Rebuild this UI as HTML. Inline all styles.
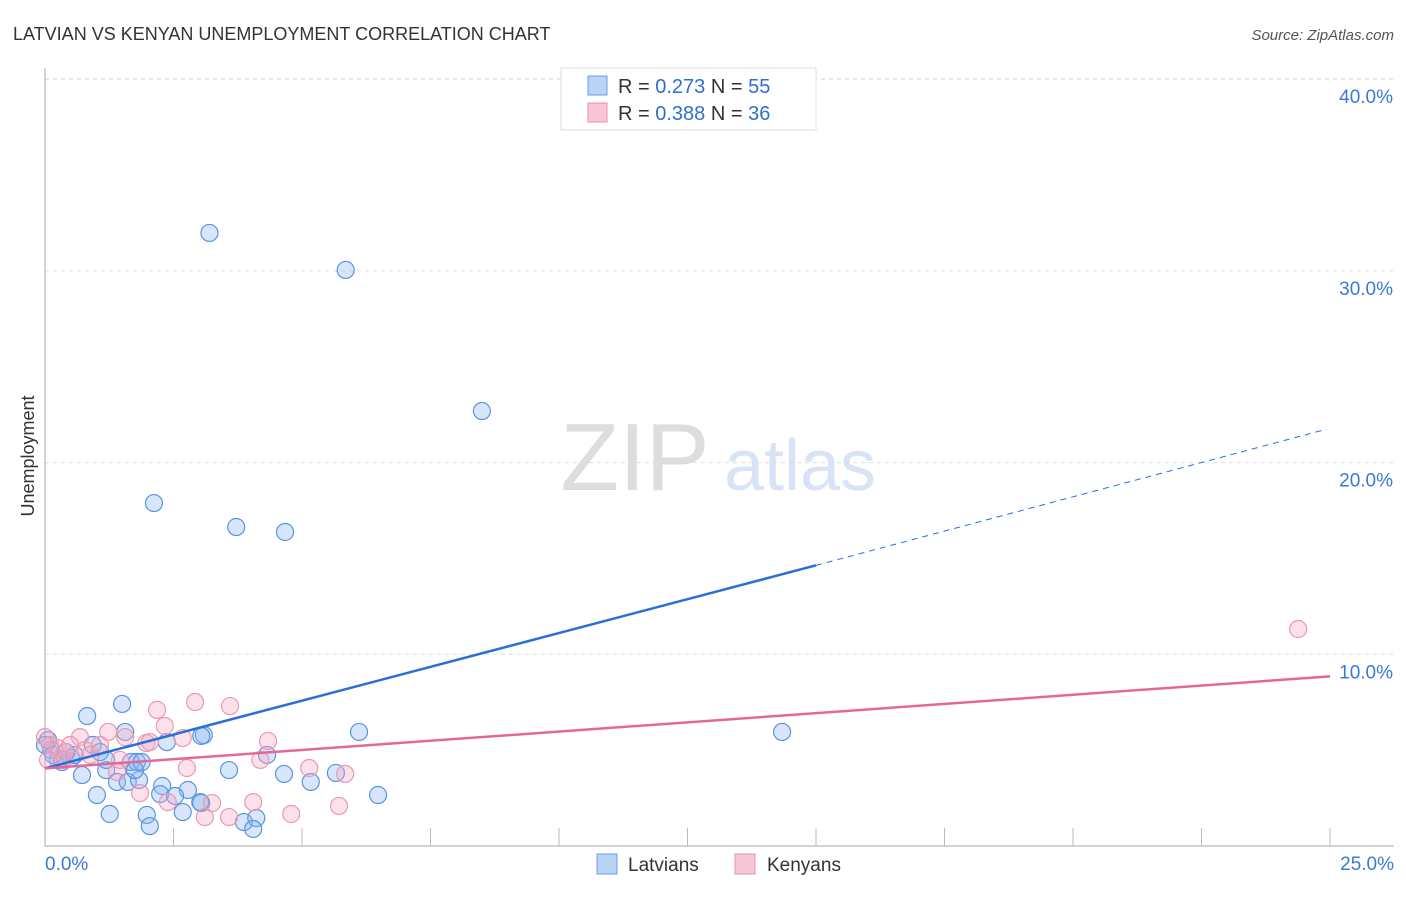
<!DOCTYPE html>
<html><head><meta charset="utf-8"><style>
body{margin:0;background:#fff;font-family:"Liberation Sans",sans-serif;}
svg text{font-family:"Liberation Sans",sans-serif;}
</style></head><body>
<svg id="chart" width="1406" height="892" xmlns="http://www.w3.org/2000/svg">
<text x="13" y="40" font-size="18" fill="#333">LATVIAN VS KENYAN UNEMPLOYMENT CORRELATION CHART</text>
<text x="1394" y="40" font-size="15" fill="#555" text-anchor="end" font-style="italic">Source: ZipAtlas.com</text>
<text x="34" y="456" font-size="18" fill="#333" text-anchor="middle" transform="rotate(-90 34 456)">Unemployment</text>
<g><text x="635" y="490" font-size="96" fill="#ddd" text-anchor="middle" font-family="Liberation Serif">ZIP</text><text x="800" y="490" font-size="72" fill="#d8e4f5" text-anchor="middle">atlas</text></g>
<g id="grid"></g><g id="axes"></g><g id="pts"></g><g id="lines"></g>
<g>
<rect x="561" y="68" width="255" height="62" fill="#fff" stroke="#ddd"/>
<rect x="588" y="76" width="19" height="19" fill="#b8d3f5" stroke="#6a9fe0"/>
<text x="618" y="93" font-size="20" fill="#333">R = <tspan fill="#2f6fd0">0.273</tspan>   N = <tspan fill="#2f6fd0">55</tspan></text>
<rect x="588" y="103" width="19" height="19" fill="#f9c6d5" stroke="#e890aa"/>
<text x="618" y="120" font-size="20" fill="#333">R = <tspan fill="#2f6fd0">0.388</tspan>   N = <tspan fill="#2f6fd0">36</tspan></text>
</g>
<g>
<rect x="597" y="854" width="20" height="20" fill="#b8d3f5" stroke="#6a9fe0"/><text x="628" y="871" font-size="19" fill="#333">Latvians</text>
<rect x="735" y="854" width="20" height="20" fill="#f9c6d5" stroke="#e890aa"/><text x="767" y="871" font-size="19" fill="#333">Kenyans</text>
</g>
</svg>
<script>
const yTicks=[10,20,30,40];
const xTickLabels=["0.0%","25.0%"];
const latX=[3.2,5.85,8.5,2.12,3.72,4.67,14.34,6.11,0.82,1.5,1.56,3.09,3.04,2.37,0.93,4.32,0.12,0.25,0.33,0.51,0.58,1.07,1.67,1.79,1.88,3.58,4.65,5.66,0.72,1.19,1.40,1.61,1.83,2.28,2.78,1.01,2.24,2.53,6.48,5.17,3.04,2.68,1.26,1.98,3.87,4.11,2.04,4.05,0.06,0.0,1.19,0.16,0.41,3.02,1.75];
const latY=[31.98,30.05,22.69,17.89,16.64,16.38,5.95,5.95,6.78,7.41,5.95,5.79,5.74,5.42,5.27,4.75,5.01,4.49,4.38,4.59,4.75,4.90,4.38,4.38,4.38,3.96,3.76,3.81,3.70,3.96,3.34,3.34,3.44,3.13,2.92,2.66,2.71,2.61,2.66,3.34,2.24,1.77,1.67,1.62,1.25,1.46,1.04,0.89,5.53,5.27,4.49,4.75,4.90,2.29,3.96];
const kenX=[24.38,2.92,3.6,2.18,2.33,2.68,1.23,0.68,1.56,1.97,4.34,4.19,2.76,5.14,5.84,1.40,1.85,2.39,3.25,4.05,3.11,3.58,4.79,5.72,0.0,0.10,0.25,0.39,0.78,0.88,1.07,0.35,0.49,1.46,2.04,0.06];
const kenY=[11.32,7.51,7.30,7.10,6.26,5.63,5.95,5.68,5.68,5.37,5.48,4.49,4.07,4.07,3.76,3.86,2.76,2.29,2.24,2.29,1.51,1.51,1.67,2.09,5.68,5.27,5.11,4.90,5.01,4.75,5.27,4.49,5.27,4.49,5.42,4.49];
const blueLine=[[0,4.05],[15,14.64]], blueDash=[[15,14.64],[24.93,21.74]];
const pinkLine=[[0,4.05],[25,8.85]];
const X=v=>45+v/25*1285, Y=v=>846-v*19.17;
const ns="http://www.w3.org/2000/svg";
function mk(t,a,p){const e=document.createElementNS(ns,t);for(const k in a)e.setAttribute(k,a[k]);document.getElementById(p).appendChild(e);return e;}
yTicks.forEach(t=>{
 const g=mk('line',{x1:45,x2:1394,y1:Y(t),y2:Y(t),stroke:'#ddd','stroke-dasharray':'4,4'},'grid');
 
 
 const l=mk('text',{x:1393,y:Y(t)+24,'font-size':19,fill:'#3b78d8','text-anchor':'end'},'axes');l.textContent=t.toFixed(1)+'%';
 
 
});
mk('line',{x1:45,x2:1394,y1:Y(40),y2:Y(40),stroke:'#ddd','stroke-dasharray':'4,4'},'grid');
mk('line',{x1:45,x2:45,y1:68,y2:846,stroke:'#aaa'},'axes');
mk('line',{x1:45,x2:1394,y1:846,y2:846,stroke:'#aaa'},'axes');
for(let i=1;i<=10;i++){const tk=mk('line',{x1:X(i*2.5),x2:X(i*2.5),y1:828,y2:846,stroke:'#bbb'},'axes');
 
 }
let a=mk('text',{x:45,y:870,'font-size':19,fill:'#3b78d8'},'axes');a.textContent=xTickLabels[0];


a=mk('text',{x:1394,y:870,'font-size':19,fill:'#3b78d8','text-anchor':'end'},'axes');a.textContent=xTickLabels[1];


latX.forEach((x,i)=>{const c=mk('circle',{cx:X(x),cy:Y(latY[i]),r:8.5,fill:'rgba(140,184,240,0.35)',stroke:'#5a94e0','stroke-width':1.2},'pts');
 
 });
kenX.forEach((x,i)=>{const c=mk('circle',{cx:X(x),cy:Y(kenY[i]),r:8.5,fill:'rgba(246,170,195,0.35)',stroke:'#eb98b2','stroke-width':1.2},'pts');
 
 });
let ln=mk('line',{x1:X(blueLine[0][0]),y1:Y(blueLine[0][1]),x2:X(blueLine[1][0]),y2:Y(blueLine[1][1]),stroke:'#2a6fd6','stroke-width':2.5},'lines');


ln=mk('line',{x1:X(blueDash[0][0]),y1:Y(blueDash[0][1]),x2:X(blueDash[1][0]),y2:Y(blueDash[1][1]),stroke:'#2a6fd6','stroke-width':1,'stroke-dasharray':'6,5'},'lines');


ln=mk('line',{x1:X(pinkLine[0][0]),y1:Y(pinkLine[0][1]),x2:X(pinkLine[1][0]),y2:Y(pinkLine[1][1]),stroke:'#e4679a','stroke-width':2.5},'lines');


</script>
</body></html>
